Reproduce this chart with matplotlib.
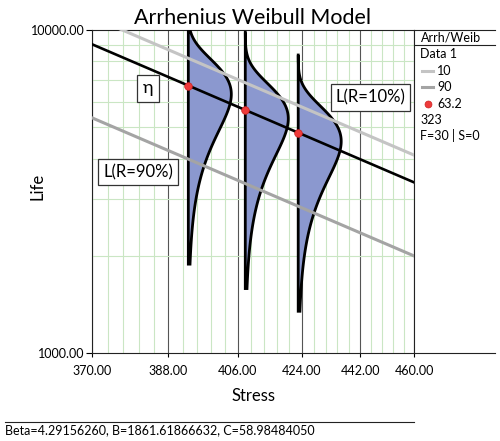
import numpy as np
import matplotlib
matplotlib.use("Agg")
import matplotlib.pyplot as plt
from matplotlib.lines import Line2D
from matplotlib.transforms import blended_transform_factory
from matplotlib.ticker import FixedLocator, NullFormatter, FuncFormatter

plt.rcParams['font.family'] = ['Lato', 'DejaVu Sans']

# fitted model (printed under the chart)
beta = 4.29156260
B = 1861.61866632
C = 58.98484050

# stress levels where the pdfs are drawn
stress_levels = [393, 408, 423]
stress_ticks = [370, 388, 406, 424, 442, 460]
life_ticks = [1000, 10000]
life_minor = [2000, 3000, 4000, 5000, 6000, 7000, 8000, 9000]
# reliability lines (%) and their colours
rel_levels = [10, 90]
rel_colors = ['#c4c4c4', '#a4a4a4']
# pdf range drawn, as multiples of eta
pdf_lo, pdf_hi = 0.28, 1.74

W, H = 500, 441
SMALL = 9.0


def fx(px):
    return px / W


def fy(py):
    return 1 - py / H


def fwd(x):
    x = np.asarray(x, dtype=float)
    with np.errstate(divide='ignore', invalid='ignore'):
        return -1.0 / x


def inv(u):
    u = np.asarray(u, dtype=float)
    with np.errstate(divide='ignore', invalid='ignore'):
        return -1.0 / u


def eta_at(T):
    return C * np.exp(B / np.asarray(T, dtype=float))


fig = plt.figure(figsize=(5, 4.41), dpi=100)
ax = fig.add_axes([fx(92), fy(353), 322 / W, 323 / H])
ax.set_xscale('function', functions=(fwd, inv))
ax.set_yscale('log')
ax.set_xlim(370, 460)
ax.set_ylim(1000, 10000)

ax.xaxis.set_major_locator(FixedLocator(stress_ticks))
ax.xaxis.set_minor_locator(FixedLocator(np.arange(370, 460.01, 3.6)))
ax.xaxis.set_major_formatter(FuncFormatter(lambda v, p: '%.2f' % v))
ax.xaxis.set_minor_formatter(NullFormatter())
ax.yaxis.set_major_locator(FixedLocator(life_ticks))
ax.yaxis.set_minor_locator(FixedLocator(life_minor))
ax.yaxis.set_major_formatter(FuncFormatter(lambda v, p: '%.2f' % v))
ax.yaxis.set_minor_formatter(NullFormatter())

ax.grid(which='minor', color='#cae6c4', lw=0.8)
ax.grid(which='major', axis='x', color='#555555', lw=0.8)
ax.set_axisbelow(True)
ax.tick_params(which='minor', length=0)
ax.tick_params(axis='x', which='major', length=3, width=0.8, pad=5.5, labelsize=SMALL)
ax.tick_params(axis='y', which='major', length=4.5, width=0.8, pad=1, labelsize=SMALL)
for s in ax.spines.values():
    s.set_color('#222222')
    s.set_linewidth(0.8)

# reliability lines
T_grid = np.linspace(370, 460, 60)
for r, col in zip(rel_levels, rel_colors):
    k = (-np.log(r / 100.0)) ** (1.0 / beta)
    ax.plot(T_grid, eta_at(T_grid) * k, color=col, lw=2.2, zorder=4)

# pdfs
tr = blended_transform_factory(ax.transAxes, ax.transData)
u0, u1 = fwd(370), fwd(460)
pdf_w = 43 / 322
for T in stress_levels:
    eta = eta_at(T)
    t = eta * np.geomspace(pdf_lo, pdf_hi, 300)
    f = (beta / eta) * (t / eta) ** (beta - 1) * np.exp(-(t / eta) ** beta)
    x0 = (fwd(T) - u0) / (u1 - u0)
    xs = np.concatenate([[x0], x0 + f / f.max() * pdf_w, [x0]])
    ys = np.concatenate([[t[0]], t, [t[-1]]])
    ax.fill(xs, ys, facecolor='#8b98cf', edgecolor='black', lw=2.0,
            transform=tr, zorder=3)

# eta line and points
ax.plot(T_grid, eta_at(T_grid), color='black', lw=1.9, zorder=5)
ax.plot(stress_levels, eta_at(stress_levels), 'o', color='#ee3b3b',
        ms=5.5, mec='#cc2222', mew=0.5, zorder=6)

box = dict(boxstyle='square,pad=0.3', fc='white', ec='#333333', lw=0.9)
ax.text(0.174, 0.820, 'η', transform=ax.transAxes, ha='center', va='center',
        fontsize=13, bbox=dict(boxstyle='square,pad=0.3', fc='white', ec='#333333', lw=0.9), zorder=7)
ax.text(0.143, 0.560, 'L(R=90%)', transform=ax.transAxes, ha='center', va='center',
        fontsize=12, bbox=box, zorder=7)
ax.text(0.865, 0.791, 'L(R=10%)', transform=ax.transAxes, ha='center', va='center',
        fontsize=12, bbox=box, zorder=7)

# titles and labels
fig.text(fx(253), fy(18), 'Arrhenius Weibull Model', ha='center', va='center', fontsize=15.5)
fig.text(fx(253), fy(396), 'Stress', ha='center', va='center', fontsize=12)
fig.text(fx(38), fy(186), 'Life', ha='center', va='center', fontsize=12, rotation=90)

# legend panel
def hline(x0, x1, y, **kw):
    fig.add_artist(Line2D([fx(x0), fx(x1)], [fy(y), fy(y)], **kw))

hline(414, 495, 30, color='#222222', lw=0.8)
hline(414, 495, 44.5, color='#222222', lw=0.8)
hline(414, 495, 353, color='#222222', lw=0.8)
hline(5, 414, 421.5, color='#222222', lw=0.8)

lx = 420.5
fig.text(fx(lx), fy(38), 'Arrh/Weib', va='center', fontsize=SMALL)
fig.text(fx(lx), fy(54), 'Data 1', va='center', fontsize=SMALL)
for (r, col), y in zip(zip(rel_levels, rel_colors), [70.5, 87]):
    hline(422, 433, y, color=col, lw=2.2)
    fig.text(fx(437), fy(y), str(r), va='center', fontsize=SMALL)
fig.add_artist(Line2D([fx(427.5)], [fy(104)], marker='o', color='#ee3b3b',
                      ms=5, mec='#cc2222', mew=0.5))
fig.text(fx(437), fy(104), '63.2', va='center', fontsize=SMALL)
fig.text(fx(lx), fy(120), '323', va='center', fontsize=SMALL)
fig.text(fx(lx), fy(136), 'F=30 | S=0', va='center', fontsize=SMALL)

fig.text(fx(5), fy(430), 'Beta=4.29156260, B=1861.61866632, C=58.98484050',
         va='center', fontsize=SMALL)

fig.savefig('out.png', dpi=100)
